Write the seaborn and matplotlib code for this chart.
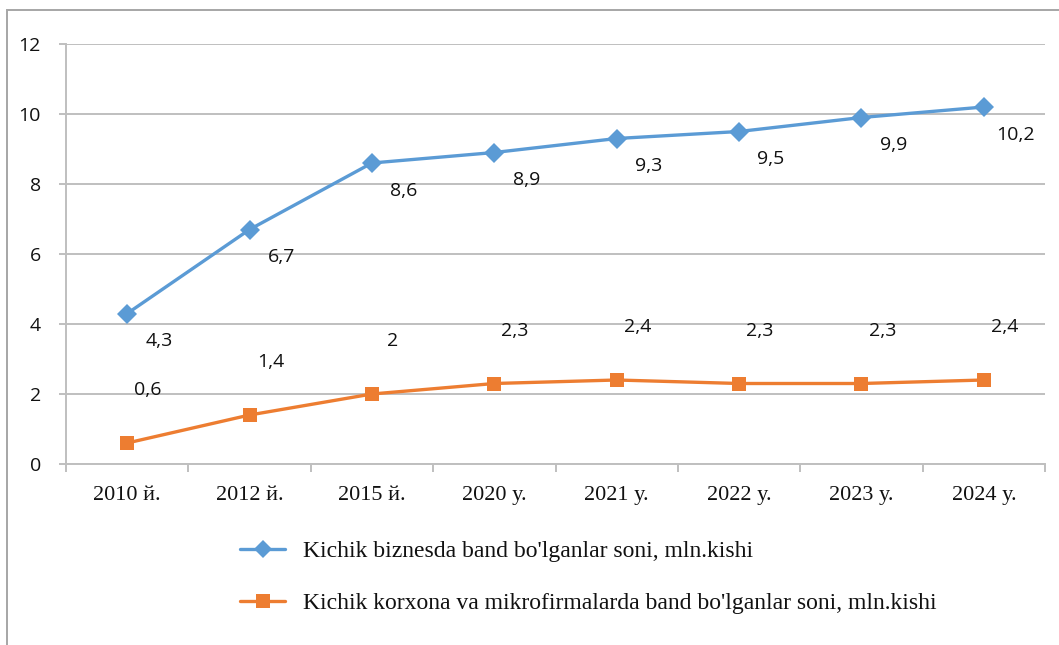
import matplotlib
matplotlib.use("Agg")
import matplotlib.pyplot as plt
import seaborn as sns
import pandas as pd
from matplotlib.lines import Line2D
from matplotlib.patches import Rectangle
from matplotlib.ticker import FixedLocator

# ---- data ----
categories = ["2010 й.", "2012 й.", "2015 й.", "2020 у.", "2021 у.", "2022 у.", "2023 у.", "2024 у."]
small_business = [4.3, 6.7, 8.6, 8.9, 9.3, 9.5, 9.9, 10.2]
micro_firms = [0.6, 1.4, 2.0, 2.3, 2.4, 2.3, 2.3, 2.4]
series_names = ["Kichik biznesda band bo'lganlar soni, mln.kishi",
                "Kichik korxona va mikrofirmalarda band bo'lganlar soni, mln.kishi"]
y_ticks = [0, 2, 4, 6, 8, 10, 12]

blue = "#5B9BD5"
orange = "#ED7D31"
grid_c = "#BFBFBF"
txt_c = "#111111"

sns.set_theme(style="white")
plt.rcParams["font.family"] = ["Open Sans", "DejaVu Sans"]

fig = plt.figure(figsize=(10.59, 6.45), dpi=100)
ax = fig.add_axes([66/1059, 1-464/645, (1045-66)/1059, 420/645])

df = pd.DataFrame({
    "cat": categories * 2,
    "val": small_business + micro_firms,
    "series": [series_names[0]] * len(categories) + [series_names[1]] * len(categories),
})

sns.lineplot(data=df, x="cat", y="val", hue="series", style="series",
             palette=[blue, orange], markers=["D", "s"], dashes=False,
             markersize=10, linewidth=2.4, markeredgewidth=0, ax=ax,
             legend=False, sort=False)

# data labels
fmt = lambda v: (f"{v:g}").replace(".", ",")
for i, v in enumerate(small_business):
    ax.annotate(fmt(v), (i, v), xytext=(23, -20), textcoords="offset points",
                ha="center", va="center", fontsize=14, color=txt_c)
for i, v in enumerate(micro_firms):
    ax.annotate(fmt(v), (i, v), xytext=(15, 38), textcoords="offset points",
                ha="center", va="center", fontsize=14, color=txt_c)

ax.set_xlim(-0.5, len(categories) - 0.5)
ax.set_ylim(0, 12)
ax.set_yticks(y_ticks)
ax.set_yticklabels([str(t) for t in y_ticks], fontsize=14, color=txt_c)
ax.yaxis.grid(True, color=grid_c, linewidth=1.4)
ax.set_axisbelow(True)
ax.tick_params(axis="y", length=5, width=1.4, color=grid_c, pad=13, left=True)

ax.set_xticks(range(len(categories)))
ax.set_xticklabels(categories, fontsize=16, family=["Liberation Serif", "DejaVu Serif"], color=txt_c)
ax.tick_params(axis="x", which="major", length=0, pad=16)
ax.xaxis.set_minor_locator(FixedLocator([i - 0.5 for i in range(len(categories) + 1)]))
ax.tick_params(axis="x", which="minor", length=6, width=1.4, color=grid_c, bottom=True)

ax.set_xlabel("")
ax.set_ylabel("")
for s in ["top", "right"]:
    ax.spines[s].set_visible(False)
for s in ["left", "bottom"]:
    ax.spines[s].set_color(grid_c)
    ax.spines[s].set_linewidth(1.4)

# legend below
handles = [Line2D([], [], color=blue, marker="D", markersize=9, linewidth=2.4, markeredgewidth=0),
           Line2D([], [], color=orange, marker="s", markersize=10, linewidth=2.4, markeredgewidth=0)]
leg = fig.legend(handles, series_names, loc="upper left", bbox_to_anchor=(219/1059, 1-519/645),
                 frameon=False, handlelength=1.9, handletextpad=0.75, labelspacing=1.3,
                 prop={"family": ["Liberation Serif", "DejaVu Serif"], "size": 17})
for t in leg.get_texts():
    t.set_color(txt_c)

# outer frame
fig.patches.append(Rectangle((7/1059, -0.05), 1.2, 1-10/645 + 0.05, transform=fig.transFigure,
                             fill=False, edgecolor="#A6A6A6", linewidth=1.4))

fig.savefig("out.png", dpi=100)
